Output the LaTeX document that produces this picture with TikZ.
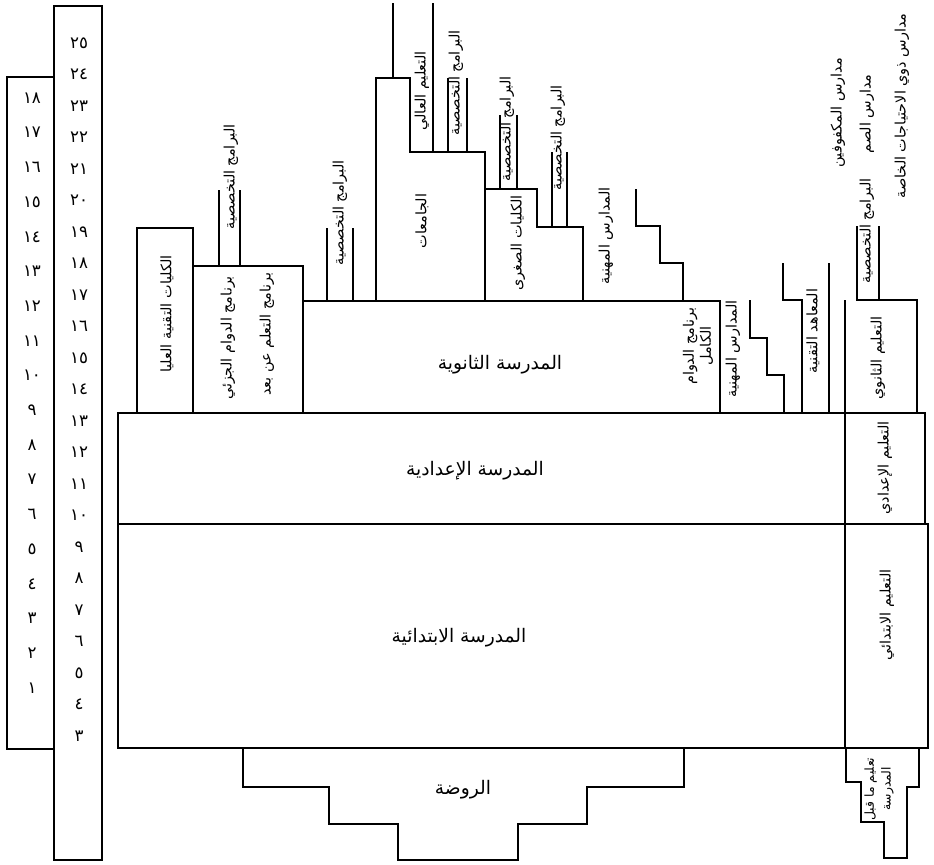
\documentclass[tikz,border=0pt]{standalone}
\usepackage{fontspec}
\newfontfamily\arabicfont[Script=Arabic]{DejaVu Sans}
\TeXXeTstate=1

\begin{document}
\begin{tikzpicture}[x=0.75pt,y=-0.75pt,line width=1.6pt,
  vlbl/.style={rotate=90,inner sep=0pt,font=\arabicfont\fontsize{10.8}{12.8}\selectfont},
  hlbl/.style={inner sep=0pt,font=\arabicfont\fontsize{14}{16}\selectfont},
  num/.style={inner sep=0pt,font=\arabicfont\fontsize{12.5}{14}\selectfont}]
\useasboundingbox (0,0) rectangle (934,864);
% age and grade columns
\draw (7,77) rectangle (54,749);
\draw (54,6) rectangle (102,860);
\foreach \n/\label in {25/٢٥,24/٢٤,23/٢٣,22/٢٢,21/٢١,20/٢٠,19/١٩,18/١٨,17/١٧,16/١٦,15/١٥,14/١٤,13/١٣,12/١٢,11/١١,10/١٠,9/٩,8/٨,7/٧,6/٦,5/٥,4/٤,3/٣}
  \node [num] (age\n) at (79,{43+(25-\n)*31.5}) {\label};
\foreach \n/\label in {18/١٨,17/١٧,16/١٦,15/١٥,14/١٤,13/١٣,12/١٢,11/١١,10/١٠,9/٩,8/٨,7/٧,6/٦,5/٥,4/٤,3/٣,2/٢,1/١}
  \node [num] (grade\n) at (32,{98+(18-\n)*34.7}) {\label};
% primary, middle and the right column
\draw (118,524) rectangle (845,748);
\draw (118,413) rectangle (845,524);
\draw (845,413) rectangle (925,524);
\draw (845,524) rectangle (928,748);
\draw (243,748) |- (329,787) |- (398,824) |- (518,860) |- (587,824) |- (684,787) -- (684,748);
\draw (846,748) |- (861,782) |- (884,822) |- (907,858) |- (919,787) -- (919,748);
% secondary level
\draw (137,413) |- (193,228) -- (193,413);
\draw (193,266) -- (303,266) -- (303,413);
\draw (219,190) -- (219,266) (240,190) -- (240,266);
\draw (303,301) -- (720,301) -- (720,413);
\draw (327,228) -- (327,301) (353,228) -- (353,301);
% universities and colleges
\draw (376,301) |- (410,78) |- (485,152) -- (485,301);
\draw (393,3) -- (393,78) (433,3) -- (433,152);
\draw (448,78) -- (448,152) (467,78) -- (467,152);
\draw (485,189) -| (537,227) -| (583,301);
\draw (500,115) -- (500,189) (517,115) -- (517,189);
\draw (552,152) -- (552,227) (567,152) -- (567,227);
% vocational, technical, special needs
\draw (636,189) |- (660,226) |- (683,263) -- (683,301);
\draw (750,300) |- (767,338) |- (784,375) -- (784,413);
\draw (783,263) |- (802,300) -- (802,413);
\draw (829,263) -- (829,413);
\draw (845,300) -- (845,413);
\draw (857,226) -- (857,300) -- (917,300) -- (917,413);
\draw (879,226) -- (879,300);
% labels
\node [vlbl] (hitech) at (167,314) {\beginR الكليات التقنية العليا\endR};
\node [vlbl] (parttime) at (228,338) {\beginR برنامج الدوام الجزئي\endR};
\node [vlbl] (distlearn) at (267,334) {\beginR برنامج التعلم عن بعد\endR};
\node [vlbl] (spec1) at (231,177) {\beginR البرامج التخصصية\endR};
\node [vlbl] (spec2) at (340,213) {\beginR البرامج التخصصية\endR};
\node [vlbl] (higher) at (422,91) {\beginR التعليم العالي\endR};
\node [vlbl] (spec3) at (456,83) {\beginR البرامج التخصصية\endR};
\node [vlbl] (univ) at (422,221) {\beginR الجامعات\endR};
\node [vlbl] (spec4) at (507,129) {\beginR البرامج التخصصية\endR};
\node [vlbl] (junior) at (518,243) {\beginR الكليات الصغرى\endR};
\node [vlbl] (spec5) at (558,138) {\beginR البرامج التخصصية\endR};
\node [vlbl] (voc1) at (606,236) {\beginR المدارس المهنية\endR};
\node [vlbl,align=center] (fulltime) at (698,346) {\beginR برنامج الدوام\endR\\\beginR الكامل\endR};
\node [vlbl] (voc2) at (733,349) {\beginR المدارس المهنية\endR};
\node [vlbl] (techinst) at (813,331) {\beginR المعاهد التقنية\endR};
\node [vlbl] (seced) at (878,358) {\beginR التعليم الثانوي\endR};
\node [vlbl] (spec6) at (867,231) {\beginR البرامج التخصصية\endR};
\node [vlbl] (blind) at (838,113) {\beginR مدارس المكفوفين\endR};
\node [vlbl] (deaf) at (867,114) {\beginR مدارس الصم\endR};
\node [vlbl] (special) at (902,106) {\beginR مدارس ذوي الاحتياجات الخاصة\endR};
\node [hlbl] (secondary) at (500,365) {\beginR المدرسة الثانوية\endR};
\node [hlbl] (middle) at (475,471) {\beginR المدرسة الإعدادية\endR};
\node [hlbl] (primary) at (459,638) {\beginR المدرسة الابتدائية\endR};
\node [hlbl] (kinder) at (463,790) {\beginR الروضة\endR};
\node [vlbl] (midled) at (885,468) {\beginR التعليم الإعدادي\endR};
\node [vlbl] (primed) at (887,615) {\beginR التعليم الابتدائي\endR};
\node [vlbl,align=center,font=\arabicfont\fontsize{9.3}{12.5}\selectfont] (presch) at (879,789) {\beginR تعليم ما قبل\endR\\\beginR المدرسة\endR};
\end{tikzpicture}
\end{document}
